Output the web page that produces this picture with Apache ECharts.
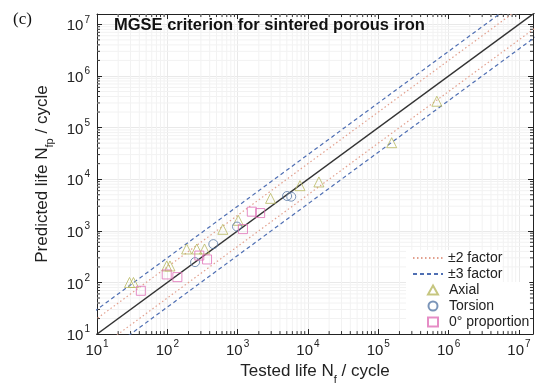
<!DOCTYPE html>
<html>
<head>
<meta charset="utf-8">
<script src="https://cdn.jsdelivr.net/npm/echarts@6/dist/echarts.min.js"></script>
<style>html,body{margin:0;padding:0;background:#fff}#c{width:537px;height:390px}</style>
</head>
<body>
<div id="c"></div>
<script>
// ---- data ----
const axialTested    = [29, 33, 98, 109, 188, 262, 338, 615, 1020, 2940, 7700, 14300, 155000, 680000];
const axialPredicted = [100, 100, 209, 209, 445, 445, 445, 1070, 1600, 4260, 7500, 8850, 51000, 324000];
const torsionTested    = [248, 451, 979, 5050, 5780];
const torsionPredicted = [248, 553, 1210, 4730, 4590];
const propTested    = [42, 98, 139, 285, 367, 1190, 1590, 2090];
const propPredicted = [69, 143, 127, 332, 279, 1080, 2350, 2210];
const factor2 = [2, 1/2];
const factor3 = [3, 1/3];
const lineEnds = [1, 1e8];
const tickExponents = [1, 2, 3, 4, 5, 6, 7];
const minorMultiples = [2, 3, 4, 5, 6, 7, 8, 9];
const axisMin = 10, axisMax = Math.pow(10, 7.2);

const zip = (a, b) => a.map((v, i) => [v, b[i]]);
const factorLine = f => lineEnds.map(x => [x, x * f]);

const minorVals = [];
tickExponents.forEach(e => minorMultiples.forEach(m => {
  const v = m * Math.pow(10, e);
  if (v < axisMax) minorVals.push(v);
}));
const minorData = minorVals.map(v => [v, 10, 0]).concat(minorVals.map(v => [10, v, 1]));

const TXT = '#222';
const FONT = 'Liberation Sans';
const supFmt = v => {
  const l = Math.log10(v), e = Math.round(l);
  if (Math.abs(l - e) > 1e-6 || tickExponents.indexOf(e) < 0) return '';
  return '{b|10}{s|' + e + '}';
};
const labelRich = {
  b: {fontSize: 15, fontFamily: FONT, color: TXT, lineHeight: 19, verticalAlign: 'bottom'},
  s: {fontSize: 10, fontFamily: FONT, color: TXT, lineHeight: 19, verticalAlign: 'top', padding: [0,0,0,1]}
};
const nameRich = {
  n: {fontSize: 17, fontFamily: FONT, color: TXT, lineHeight: 22, verticalAlign: 'top'},
  sb: {fontSize: 11, fontFamily: FONT, color: TXT, lineHeight: 22, verticalAlign: 'bottom'}
};
const baseAxis = {
  type: 'log', logBase: 10, min: axisMin, max: axisMax,
  axisLine: {show: true, onZero: false, lineStyle: {color: '#222', width: 1}},
  axisTick: {show: true, inside: true, length: 5, lineStyle: {color: '#222'}},
  splitLine: {show: false},
  axisLabel: {show: false}
};

const chart = echarts.init(document.getElementById('c'), null, {renderer: 'canvas'});
const hollow = c => ({color: 'rgba(255,255,255,0)', borderColor: c, borderWidth: 1});
const legendText = {fontSize: 14, fontFamily: FONT, color: TXT, lineHeight: 16};

chart.setOption({
  animation: false,
  backgroundColor: '#fff',
  grid: {left: 97, right: 4, top: 14, bottom: 50, containLabel: false},
  graphic: [
    {type: 'text', left: 13, top: 11, z: 50, style: {text: '(c)', font: '17px "Liberation Serif"', fill: '#111'}},
    {type: 'text', left: 114, top: 17, z: 50, style: {text: 'MGSE criterion for sintered porous iron', font: 'bold 16.5px "Liberation Sans"', fill: '#111'}}
  ],
  xAxis: [
    Object.assign({}, baseAxis, {
      position: 'bottom',
      splitLine: {show: true, lineStyle: {color: '#e9e9e9', width: 1}},
      axisLabel: {show: true, formatter: supFmt, rich: labelRich, margin: 5},
      name: '{n|Tested life N}{sb|f}{n| / cycle}', nameLocation: 'middle', nameGap: 26,
      nameTextStyle: {rich: nameRich}
    }),
    Object.assign({}, baseAxis, {position: 'top'})
  ],
  yAxis: [
    Object.assign({}, baseAxis, {
      position: 'left',
      splitLine: {show: true, lineStyle: {color: '#e9e9e9', width: 1}},
      axisLabel: {show: true, formatter: supFmt, rich: labelRich, margin: 7},
      name: '{n|Predicted life N}{sb|fp}{n| / cycle}', nameLocation: 'middle', nameGap: 34,
      nameTextStyle: {rich: nameRich}
    }),
    Object.assign({}, baseAxis, {position: 'right'})
  ],
  legend: [
    {
      orient: 'vertical', left: 406, top: 250, padding: [0, 0, 0, 6],
      backgroundColor: '#fff', itemWidth: 30, itemHeight: 10, itemGap: 0,
      textStyle: legendText,
      data: [
        {name: '±2 factor', itemStyle: {opacity: 0}},
        {name: '±3 factor', itemStyle: {opacity: 0}}
      ]
    },
    {
      orient: 'vertical', left: 406, top: 282, padding: [0, 0, 0, 21],
      backgroundColor: '#fff', itemWidth: 10, itemHeight: 9, itemGap: 0,
      textStyle: Object.assign({padding: [0, 0, 0, 6]}, legendText),
      data: ['Axial', 'Torsion', '0° proportion']
    }
  ],
  series: [
    {
      type: 'custom', name: 'minor', silent: true, z: 1, clip: true,
      coordinateSystem: 'cartesian2d',
      encode: {x: 0, y: 1},
      data: minorData,
      renderItem: (params, api) => {
        const cs = params.coordSys;
        const o = api.value(2);
        if (o === 0) {
          const x = api.coord([api.value(0), 10])[0];
          return {type: 'group', children: [
            {type: 'line', shape: {x1: x, y1: cs.y, x2: x, y2: cs.y + cs.height}, style: {stroke: '#f2f2f2', lineWidth: 1}},
            {type: 'line', shape: {x1: x, y1: cs.y + cs.height, x2: x, y2: cs.y + cs.height - 3}, style: {stroke: '#333', lineWidth: 1}},
            {type: 'line', shape: {x1: x, y1: cs.y, x2: x, y2: cs.y + 3}, style: {stroke: '#333', lineWidth: 1}}
          ]};
        } else {
          const y = api.coord([10, api.value(1)])[1];
          return {type: 'group', children: [
            {type: 'line', shape: {x1: cs.x, y1: y, x2: cs.x + cs.width, y2: y}, style: {stroke: '#f2f2f2', lineWidth: 1}},
            {type: 'line', shape: {x1: cs.x, y1: y, x2: cs.x + 3, y2: y}, style: {stroke: '#333', lineWidth: 1}},
            {type: 'line', shape: {x1: cs.x + cs.width, y1: y, x2: cs.x + cs.width - 3, y2: y}, style: {stroke: '#333', lineWidth: 1}}
          ]};
        }
      }
    },
    {type: 'line', name: 'y=x', data: factorLine(1), symbol: 'none', clip: true, z: 3,
     lineStyle: {color: '#333', width: 1.4}},
    {type: 'line', name: '±2 factor', data: factorLine(factor2[0]), symbol: 'none', clip: true, z: 3,
     color: '#e2a08e', lineStyle: {color: '#e2a08e', width: 1.2, type: [1.5, 2.5]}},
    {type: 'line', name: '±2 factor', data: factorLine(factor2[1]), symbol: 'none', clip: true, z: 3,
     color: '#e2a08e', lineStyle: {color: '#e2a08e', width: 1.2, type: [1.5, 2.5]}},
    {type: 'line', name: '±3 factor', data: factorLine(factor3[0]), symbol: 'none', clip: true, z: 3,
     color: '#4f6fb3', lineStyle: {color: '#4f6fb3', width: 1.2, type: [4, 3]}},
    {type: 'line', name: '±3 factor', data: factorLine(factor3[1]), symbol: 'none', clip: true, z: 3,
     color: '#4f6fb3', lineStyle: {color: '#4f6fb3', width: 1.2, type: [4, 3]}},
    {type: 'scatter', name: 'Axial', data: zip(axialTested, axialPredicted), symbol: 'triangle', symbolSize: 10, z: 4,
     itemStyle: hollow('#b8b860')},
    {type: 'scatter', name: 'Torsion', data: zip(torsionTested, torsionPredicted), symbol: 'circle', symbolSize: 9, z: 4,
     itemStyle: hollow('#5a7aa8')},
    {type: 'scatter', name: '0° proportion', data: zip(propTested, propPredicted), symbol: 'rect', symbolSize: 9, z: 4,
     itemStyle: hollow('#e070b8')}
  ]
});
</script>
</body>
</html>
